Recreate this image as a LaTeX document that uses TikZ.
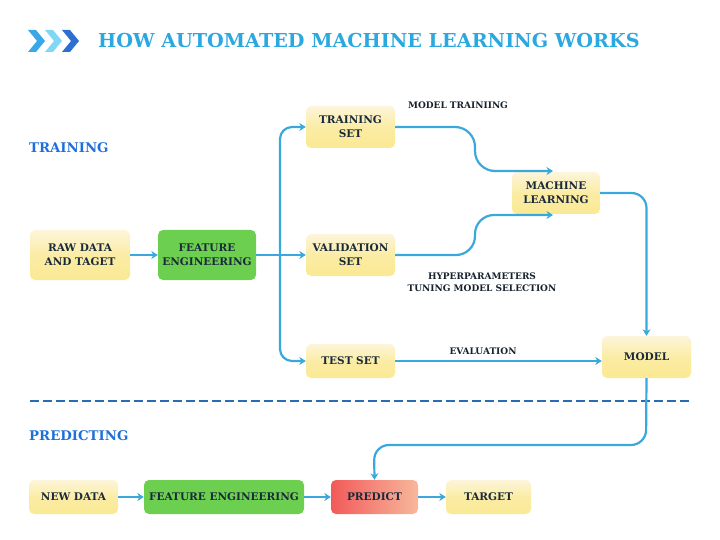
\documentclass[tikz,border=0pt]{standalone}
\usepackage{fontspec}
\setmainfont{DejaVu Serif}
\definecolor{titleblue}{HTML}{2BA8E0}
\definecolor{secblue}{HTML}{1E6FD9}
\definecolor{conn}{HTML}{3AA8DC}
\definecolor{dashblue}{HTML}{2A6BB5}
\definecolor{ink}{HTML}{1B2A3A}
\definecolor{greenbox}{HTML}{6CCF4F}
\definecolor{ylw}{HTML}{FAE993}
\definecolor{cream}{HTML}{FDF5DA}
\definecolor{redL}{HTML}{F25A5A}
\definecolor{redR}{HTML}{F7B89C}
\definecolor{chevA}{HTML}{3AA8E8}
\definecolor{chevB}{HTML}{80D8F5}
\definecolor{chevC}{HTML}{2C6FD0}
\tikzset{
  x=1pt,y=-1pt,
  box/.style={rounded corners=5pt, align=center, text=ink, font=\fontsize{10.5}{14}\selectfont\bfseries, inner sep=0pt},
  ybox/.style={box, top color=cream, bottom color=ylw, middle color=ylw!75!cream},
  gbox/.style={box, fill=greenbox},
  rbox/.style={box, left color=redL, right color=redR},
  link/.style={draw=conn, line width=2.2pt, -{Stealth[length=6.5pt,width=8pt]}},
  lbl/.style={text=ink!80!black, font=\fontsize{9}{12}\selectfont\bfseries, align=center},
  sec/.style={text=secblue, font=\fontsize{13.3}{16}\selectfont\bfseries, anchor=west, inner sep=0pt},
}
\usetikzlibrary{arrows.meta}
\begin{document}
\begin{tikzpicture}
\useasboundingbox (0,0) rectangle (720,540);
% chevrons
\foreach \x/\c in {28/chevA,45/chevB,62/chevC}{
  \fill[\c] (\x,30) -- (\x+8,30) -- (\x+17,41) -- (\x+8,52) -- (\x,52) -- (\x+9,41) -- cycle;
}
\node[anchor=west, text=titleblue, font=\fontsize{19.2}{22}\selectfont\bfseries, inner sep=0pt] (title) at (98,41) {HOW AUTOMATED MACHINE LEARNING WORKS};
\node[sec] (training) at (29,148) {TRAINING};
\node[sec] (predicting) at (29,436) {PREDICTING};

% training boxes
\node[ybox, minimum width=100pt, minimum height=50pt] (raw) at (80,255) {RAW DATA\\AND TAGET};
\node[gbox, minimum width=98pt, minimum height=50pt] (fe) at (207,255) {FEATURE\\ENGINEERING};
\node[ybox, minimum width=89pt, minimum height=42pt] (ts) at (350.5,127) {TRAINING\\SET};
\node[ybox, minimum width=89pt, minimum height=42pt] (vs) at (350.5,255) {VALIDATION\\SET};
\node[ybox, minimum width=89pt, minimum height=34pt] (test) at (350.5,361) {TEST SET};
\node[ybox, minimum width=88pt, minimum height=42pt] (ml) at (556,193) {MACHINE\\LEARNING};
\node[ybox, minimum width=89pt, minimum height=42pt] (model) at (646.5,357) {MODEL};

\node[lbl] (mt) at (458,105) {MODEL TRAINIING};
\node[lbl] (hp) at (482,282) {HYPERPARAMETERS\\TUNING MODEL SELECTION};
\node[lbl] (ev) at (483,351) {EVALUATION};

% connectors training
\coordinate (j) at (280,255);
\draw[link] (raw) -- (fe);
\draw[link] (fe) -- (vs);
\draw[link, rounded corners=12pt] (j) |- (ts.west);
\draw[link, rounded corners=12pt] (j) |- (test.west);
\coordinate (mlin1) at (553,171);
\coordinate (mlin2) at (553,215);
\draw[link, rounded corners=20pt] (ts.east) -- (475,127) -- (475,171) -- (mlin1);
\draw[link, rounded corners=19pt] (vs.east) -- (475,255) -- (475,215) -- (mlin2);
\draw[link, rounded corners=15pt] (ml.east) -| (model.north);
\draw[link] (test) -- (model.west |- test);

% dashed separator
\draw[dashblue, line width=2.2pt, dash pattern=on 9pt off 4pt] (30,401) coordinate (d1) -- (690,401) coordinate (d2);

% predicting row
\node[ybox, minimum width=89pt, minimum height=34pt] (nd) at (73.5,497) {NEW DATA};
\node[gbox, minimum width=160pt, minimum height=34pt] (fe2) at (224,497) {FEATURE ENGINEERING};
\node[rbox, minimum width=87pt, minimum height=34pt] (pr) at (374.5,497) {PREDICT};
\node[ybox, minimum width=85pt, minimum height=34pt] (tg) at (488.5,497) {TARGET};
\draw[link] (nd) -- (fe2);
\draw[link] (fe2) -- (pr);
\draw[link] (pr) -- (tg);
\draw[link, rounded corners=15pt] (model.south) -- (646,445) -- (374,445) -- (pr.north);
\end{tikzpicture}
\end{document}
